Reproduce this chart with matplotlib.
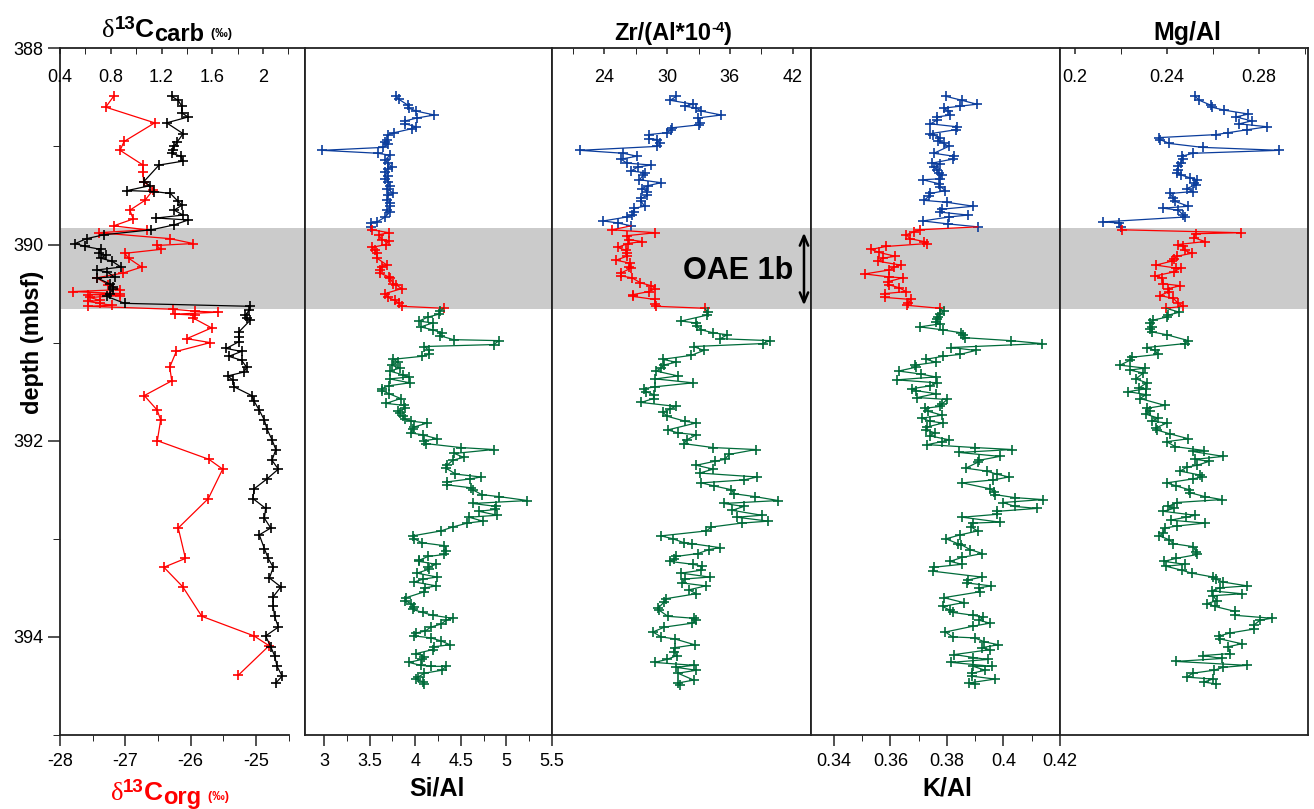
import numpy as np
import matplotlib
matplotlib.use("Agg")
import matplotlib.pyplot as plt
from matplotlib.transforms import IdentityTransform

plt.rcParams["font.family"] = ["Liberation Sans", "DejaVu Sans"]
plt.rcParams["axes.unicode_minus"] = False

# (depth mbsf, value) pairs
carb = [(388.49, 1.28), (388.53, 1.33), (388.59, 1.36), (388.66, 1.36), (388.70, 1.41), (388.76, 1.24),
        (388.87, 1.37), (388.96, 1.32), (389.00, 1.30), (389.04, 1.29), (389.07, 1.28), (389.10, 1.35),
        (389.15, 1.37), (389.19, 1.18), (389.36, 1.06), (389.40, 1.11), (389.45, 0.93), (389.46, 1.14),
        (389.48, 1.27), (389.56, 1.33), (389.60, 1.36), (389.65, 1.30), (389.70, 1.37), (389.73, 1.16),
        (389.75, 1.41), (389.80, 1.30), (389.85, 1.12), (389.90, 0.75), (389.94, 0.61), (389.99, 0.52),
        (390.02, 0.60), (390.05, 0.72), (390.09, 0.71), (390.11, 0.76), (390.14, 0.72), (390.17, 0.81),
        (390.23, 0.88), (390.26, 0.69), (390.28, 0.77), (390.33, 0.83), (390.34, 0.69), (390.40, 0.79),
        (390.43, 0.82), (390.45, 0.82), (390.50, 0.79), (390.53, 0.77), (390.60, 0.91), (390.63, 1.90),
        (390.67, 1.89), (390.72, 1.86), (390.75, 1.87), (390.77, 1.90), (390.89, 1.81), (390.94, 1.81),
        (390.99, 1.81), (391.06, 1.71), (391.09, 1.83), (391.14, 1.73), (391.18, 1.83), (391.25, 1.87),
        (391.30, 1.85), (391.34, 1.72), (391.38, 1.76), (391.45, 1.77), (391.54, 1.91), (391.60, 1.93),
        (391.69, 1.97), (391.79, 2.01), (391.88, 2.03), (391.99, 2.07), (392.09, 2.10), (392.20, 2.07),
        (392.29, 2.12), (392.39, 2.03), (392.49, 1.93), (392.59, 1.92), (392.69, 2.02), (392.79, 2.01),
        (392.89, 2.06), (392.96, 1.97), (393.10, 2.01), (393.20, 2.04), (393.29, 2.08), (393.40, 2.05),
        (393.49, 2.14), (393.59, 2.08), (393.69, 2.08), (393.79, 2.09), (393.90, 2.12), (393.99, 2.02),
        (394.10, 2.06), (394.19, 2.09), (394.30, 2.11), (394.40, 2.15), (394.47, 2.10)]

org = [(388.49, -27.18), (388.60, -27.30), (388.76, -26.55), (388.95, -27.02), (389.04, -27.08),
       (389.19, -26.73), (389.26, -26.73), (389.36, -26.72), (389.44, -26.57), (389.55, -26.70),
       (389.65, -26.93), (389.74, -26.88), (389.81, -27.18), (389.85, -26.67), (389.88, -27.41),
       (389.94, -26.32), (389.99, -25.96), (390.01, -26.52), (390.05, -26.46), (390.09, -27.01),
       (390.14, -26.95), (390.23, -26.75), (390.29, -27.03), (390.34, -27.44), (390.41, -27.26),
       (390.46, -27.08), (390.48, -27.80), (390.50, -27.08), (390.51, -27.57), (390.52, -27.08),
       (390.54, -27.54), (390.57, -27.39), (390.58, -27.57), (390.60, -27.39), (390.62, -27.21),
       (390.63, -27.57), (390.66, -26.27), (390.68, -25.93), (390.69, -25.58), (390.71, -26.24),
       (390.72, -25.93), (390.75, -25.96), (390.85, -25.68), (390.96, -26.06), (391.00, -25.70),
       (391.09, -26.22), (391.25, -26.32), (391.39, -26.29), (391.54, -26.71), (391.69, -26.51),
       (391.79, -26.46), (392.00, -26.51), (392.19, -25.72), (392.29, -25.51), (392.59, -25.73),
       (392.89, -26.19), (393.20, -26.08), (393.29, -26.41), (393.49, -26.12), (393.79, -25.83),
       (393.99, -25.03), (394.09, -24.80), (394.39, -25.27)]

si_al = [(388.49, 3.79), (388.52, 3.82), (388.58, 3.92), (388.61, 3.93), (388.64, 4.01), (388.68, 4.21),
         (388.71, 4.02), (388.74, 3.89), (388.77, 3.89), (388.80, 4.01), (388.82, 3.96), (388.86, 3.77),
         (388.88, 3.70), (388.93, 3.69), (388.96, 3.67), (388.98, 3.70), (389.01, 3.65), (389.04, 2.98),
         (389.07, 3.59), (389.09, 3.72), (389.14, 3.67), (389.17, 3.70), (389.21, 3.74), (389.23, 3.70),
         (389.26, 3.67), (389.30, 3.70), (389.33, 3.67), (389.36, 3.70), (389.40, 3.72), (389.43, 3.69),
         (389.48, 3.76), (389.50, 3.70), (389.55, 3.69), (389.58, 3.72), (389.61, 3.72), (389.65, 3.69),
         (389.67, 3.72), (389.72, 3.67), (389.77, 3.58), (389.78, 3.51), (389.82, 3.51),
         (389.85, 3.53), (389.88, 3.71), (389.90, 3.60), (389.95, 3.63), (389.96, 3.71), (390.00, 3.68),
         (390.03, 3.52), (390.06, 3.56), (390.09, 3.58), (390.14, 3.58), (390.21, 3.69), (390.23, 3.63),
         (390.26, 3.61), (390.29, 3.61), (390.33, 3.71), (390.34, 3.72), (390.40, 3.76), (390.41, 3.79),
         (390.45, 3.85), (390.50, 3.67), (390.54, 3.70), (390.57, 3.78), (390.60, 3.82), (390.63, 3.85),
         (390.65, 4.31),
         (390.68, 4.27), (390.71, 4.26), (390.74, 4.14), (390.78, 4.04), (390.80, 4.19), (390.84, 4.06),
         (390.87, 4.19), (390.90, 4.29), (390.93, 4.27), (390.97, 4.42), (390.98, 4.92), (391.02, 4.86),
         (391.04, 4.10), (391.08, 4.15), (391.12, 4.15), (391.14, 4.07), (391.17, 3.76), (391.20, 3.81),
         (391.23, 3.74), (391.26, 3.83), (391.29, 3.72), (391.33, 3.87), (391.35, 3.93), (391.37, 3.72),
         (391.41, 3.94), (391.44, 3.71), (391.47, 3.63), (391.49, 3.64), (391.52, 3.71), (391.57, 3.84),
         (391.62, 3.68), (391.64, 3.88), (391.67, 3.89), (391.70, 3.81), (391.72, 3.83), (391.75, 3.86),
         (391.78, 3.89), (391.80, 3.95), (391.82, 4.13), (391.86, 3.99), (391.88, 3.97), (391.92, 3.95),
         (391.94, 4.08), (391.98, 4.24), (392.00, 4.10), (392.03, 4.12), (392.07, 4.50), (392.09, 4.86),
         (392.13, 4.43), (392.17, 4.53), (392.20, 4.41), (392.25, 4.35), (392.28, 4.34), (392.34, 4.44),
         (392.37, 4.72), (392.39, 4.60), (392.42, 4.35), (392.45, 4.35), (392.48, 4.61), (392.50, 4.63),
         (392.55, 4.73), (392.57, 4.92), (392.61, 5.23), (392.64, 4.63), (392.67, 4.89), (392.70, 4.88),
         (392.72, 4.70), (392.76, 4.90), (392.78, 4.59), (392.82, 4.74), (392.84, 4.57), (392.88, 4.41),
         (392.92, 4.28), (392.97, 3.97), (393.00, 3.99), (393.04, 4.07), (393.07, 4.32), (393.12, 4.34),
         (393.16, 4.32), (393.18, 4.14), (393.22, 4.04), (393.23, 4.04), (393.26, 4.23), (393.29, 4.14),
         (393.31, 4.15), (393.35, 4.02), (393.39, 4.24), (393.41, 4.09), (393.44, 3.99), (393.48, 4.23),
         (393.50, 4.11), (393.54, 4.10), (393.60, 3.90), (393.63, 3.89), (393.66, 3.95), (393.70, 3.99),
         (393.72, 3.97), (393.75, 4.08), (393.78, 4.19), (393.81, 4.41), (393.83, 4.34), (393.87, 4.28),
         (393.90, 4.17), (393.94, 4.11), (393.96, 4.01), (393.99, 3.99), (394.01, 4.17), (394.04, 4.28),
         (394.08, 4.38), (394.10, 4.21), (394.13, 4.19), (394.17, 4.01), (394.20, 4.10), (394.23, 4.07),
         (394.26, 3.93), (394.29, 4.06), (394.30, 4.17), (394.30, 4.34), (394.34, 4.29), (394.37, 4.10),
         (394.41, 4.03), (394.43, 4.01), (394.46, 4.09), (394.48, 4.10)]

zr_al = [(388.49, 30.87), (388.53, 30.30), (388.57, 32.47), (388.59, 31.67), (388.61, 32.79), (388.64, 33.27),
         (388.68, 35.19), (388.71, 32.95), (388.76, 33.11), (388.78, 33.05), (388.81, 30.49), (388.83, 30.39),
         (388.86, 29.98), (388.88, 28.25), (388.92, 28.25), (388.93, 29.02), (388.97, 29.34), (389.00, 29.02),
         (389.04, 21.67), (389.07, 25.82), (389.10, 27.10), (389.13, 25.60), (389.17, 26.14), (389.19, 28.48),
         (389.21, 27.20), (389.25, 26.56), (389.27, 27.93), (389.29, 27.74), (389.34, 27.36), (389.37, 29.43),
         (389.40, 28.16), (389.43, 27.61), (389.46, 28.09), (389.50, 28.06), (389.53, 27.52), (389.56, 27.52),
         (389.61, 27.84), (389.63, 26.88), (389.67, 26.88), (389.70, 26.65), (389.72, 26.14), (389.76, 23.90),
         (389.78, 25.28), (389.81, 26.56),
         (389.85, 24.74), (389.88, 28.89), (389.91, 26.17), (389.95, 26.33), (389.97, 27.61), (389.99, 26.24),
         (390.03, 25.28), (390.06, 26.08), (390.09, 26.14), (390.12, 26.14), (390.16, 25.12), (390.19, 26.46),
         (390.23, 26.33), (390.24, 26.56), (390.29, 25.60), (390.32, 25.60), (390.34, 26.65), (390.39, 27.45),
         (390.42, 28.48), (390.45, 28.89), (390.48, 28.25), (390.51, 26.78), (390.53, 26.78), (390.56, 28.80),
         (390.61, 28.89), (390.63, 28.96), (390.65, 33.59),
         (390.69, 33.91), (390.72, 33.81), (390.78, 31.35), (390.80, 32.73), (390.83, 32.86), (390.87, 33.27),
         (390.90, 34.39), (390.92, 35.73), (390.96, 35.09), (390.98, 39.82), (391.01, 39.12), (391.04, 32.54),
         (391.08, 33.50), (391.13, 32.31), (391.17, 29.59), (391.20, 30.81), (391.23, 29.66), (391.26, 29.43),
         (391.29, 28.96), (391.34, 31.03), (391.37, 28.89), (391.41, 32.47), (391.45, 28.89), (391.47, 27.77),
         (391.50, 28.00), (391.53, 28.70), (391.57, 28.70), (391.61, 27.52), (391.65, 30.81), (391.68, 30.23),
         (391.71, 29.59), (391.75, 29.98), (391.80, 31.67), (391.82, 32.73), (391.89, 30.07), (391.92, 31.03),
         (391.94, 32.79), (391.99, 31.90), (392.03, 31.61), (392.07, 34.39), (392.09, 38.48), (392.14, 35.92),
         (392.19, 35.51), (392.21, 34.55), (392.25, 32.79), (392.29, 34.39), (392.33, 33.11), (392.37, 38.61),
         (392.40, 37.33), (392.43, 33.27), (392.46, 34.45), (392.50, 36.15), (392.54, 36.37), (392.57, 38.39),
         (392.61, 40.62), (392.64, 35.41), (392.67, 37.33), (392.71, 36.24), (392.76, 39.03), (392.78, 36.69),
         (392.82, 39.66), (392.84, 37.11), (392.88, 34.23), (392.92, 33.75), (392.97, 29.43), (393.00, 30.55),
         (393.04, 31.61), (393.05, 32.41), (393.09, 35.03), (393.11, 34.01), (393.15, 32.95), (393.18, 30.87),
         (393.21, 30.62), (393.23, 30.23), (393.26, 32.47), (393.28, 33.37), (393.32, 33.27), (393.35, 31.35),
         (393.39, 34.07), (393.41, 31.67), (393.45, 31.45), (393.48, 33.69), (393.52, 32.09), (393.56, 32.79),
         (393.61, 29.91), (393.64, 29.75), (393.71, 29.12), (393.73, 29.27), (393.79, 30.07), (393.81, 32.54),
         (393.83, 32.79), (393.86, 32.41), (393.90, 29.75), (393.95, 28.64), (394.00, 29.43), (394.02, 30.71),
         (394.08, 32.63), (394.11, 30.71), (394.15, 30.62), (394.19, 30.94), (394.23, 29.98), (394.26, 28.80),
         (394.29, 32.54), (394.31, 30.87), (394.34, 32.79), (394.37, 31.03), (394.44, 32.54), (394.47, 31.03),
         (394.49, 31.19)]

k_al = [(388.49, 0.3797), (388.53, 0.3853), (388.57, 0.3906), (388.59, 0.3847), (388.61, 0.3789),
        (388.64, 0.3804), (388.68, 0.3812), (388.70, 0.3766), (388.73, 0.3766), (388.77, 0.3742),
        (388.80, 0.3836), (388.83, 0.3832), (388.87, 0.3742), (388.88, 0.3750), (388.91, 0.3774),
        (388.94, 0.3769), (388.97, 0.3789), (389.00, 0.3806), (389.07, 0.3754), (389.10, 0.3824),
        (389.13, 0.3820), (389.17, 0.3748), (389.18, 0.3777), (389.21, 0.3754), (389.24, 0.3766),
        (389.27, 0.3771), (389.29, 0.3783), (389.33, 0.3774), (389.34, 0.3715), (389.38, 0.3771),
        (389.41, 0.3777), (389.45, 0.3795), (389.48, 0.3742), (389.51, 0.3736), (389.55, 0.3719),
        (389.57, 0.3801), (389.61, 0.3894), (389.64, 0.3783), (389.67, 0.3777), (389.70, 0.3874),
        (389.72, 0.3806), (389.76, 0.3715), (389.79, 0.3804), (389.82, 0.3909),
        (389.85, 0.3704), (389.87, 0.3684), (389.90, 0.3657), (389.94, 0.3669), (389.97, 0.3719),
        (389.99, 0.3731), (390.02, 0.3585), (390.05, 0.3532), (390.08, 0.3559), (390.12, 0.3617),
        (390.14, 0.3573), (390.17, 0.3555), (390.21, 0.3637), (390.23, 0.3614), (390.26, 0.3596),
        (390.30, 0.3509), (390.33, 0.3594), (390.34, 0.3643), (390.38, 0.3590), (390.41, 0.3594),
        (390.44, 0.3631), (390.48, 0.3655), (390.50, 0.3582), (390.54, 0.3582), (390.56, 0.3672),
        (390.60, 0.3664), (390.62, 0.3660), (390.65, 0.3774),
        (390.68, 0.3789), (390.71, 0.3777), (390.74, 0.3769), (390.76, 0.3766), (390.79, 0.3760),
        (390.81, 0.3774), (390.84, 0.3704), (390.87, 0.3785), (390.90, 0.3851), (390.92, 0.3856),
        (390.95, 0.3863), (390.98, 0.4026), (391.01, 0.4136), (391.05, 0.3816), (391.08, 0.3902),
        (391.12, 0.3847), (391.14, 0.3785), (391.17, 0.3727), (391.20, 0.3760), (391.23, 0.3687),
        (391.25, 0.3692), (391.29, 0.3629), (391.32, 0.3707), (391.35, 0.3760), (391.38, 0.3622),
        (391.41, 0.3766), (391.44, 0.3742), (391.47, 0.3676), (391.49, 0.3692), (391.52, 0.3760),
        (391.56, 0.3696), (391.58, 0.3801), (391.63, 0.3781), (391.65, 0.3777), (391.67, 0.3722),
        (391.70, 0.3734), (391.74, 0.3783), (391.77, 0.3711), (391.80, 0.3739), (391.82, 0.3785),
        (391.86, 0.3731), (391.89, 0.3727), (391.92, 0.3757), (391.95, 0.3739), (391.99, 0.3806),
        (392.01, 0.3781), (392.04, 0.3731), (392.07, 0.3900), (392.09, 0.4031), (392.12, 0.3844),
        (392.16, 0.3987), (392.20, 0.3914), (392.22, 0.3909), (392.28, 0.3867), (392.31, 0.3941),
        (392.34, 0.3976), (392.37, 0.4019), (392.40, 0.3964), (392.43, 0.3855), (392.49, 0.3952),
        (392.52, 0.3967), (392.55, 0.3972), (392.58, 0.4040), (392.60, 0.4139), (392.63, 0.3999),
        (392.67, 0.4040), (392.69, 0.4119), (392.72, 0.3979), (392.75, 0.3979), (392.78, 0.3855),
        (392.83, 0.3987), (392.84, 0.3891), (392.88, 0.3886), (392.92, 0.3909), (392.96, 0.3847),
        (393.00, 0.3797), (393.05, 0.3839), (393.06, 0.3851), (393.11, 0.3882), (393.15, 0.3926),
        (393.19, 0.3853), (393.23, 0.3812), (393.26, 0.3853), (393.29, 0.3754), (393.33, 0.3750),
        (393.39, 0.3923), (393.42, 0.3874), (393.45, 0.3871), (393.48, 0.3956), (393.50, 0.3914),
        (393.54, 0.3917), (393.60, 0.3789), (393.65, 0.3859), (393.69, 0.3785), (393.73, 0.3812),
        (393.75, 0.3820), (393.78, 0.3894), (393.80, 0.3929), (393.83, 0.3914), (393.86, 0.3952),
        (393.89, 0.3894), (393.95, 0.3795), (394.00, 0.3820), (394.01, 0.3898), (394.05, 0.3933),
        (394.08, 0.3982), (394.11, 0.3923), (394.13, 0.3952), (394.18, 0.3827), (394.21, 0.3894),
        (394.23, 0.3944), (394.26, 0.3816), (394.30, 0.3961), (394.30, 0.3894), (394.34, 0.3935),
        (394.37, 0.3890), (394.40, 0.3888), (394.43, 0.3970), (394.47, 0.3877), (394.48, 0.3900)]

mg_al = [(388.49, 0.2522), (388.53, 0.2541), (388.58, 0.2590), (388.60, 0.2594), (388.63, 0.2648),
         (388.67, 0.2754), (388.70, 0.2700), (388.74, 0.2768), (388.77, 0.2714), (388.80, 0.2836),
         (388.83, 0.2749), (388.86, 0.2667), (388.88, 0.2612), (388.91, 0.2367), (388.93, 0.2370),
         (388.97, 0.2410), (389.01, 0.2555), (389.04, 0.2888), (389.07, 0.2514), (389.10, 0.2464),
         (389.13, 0.2468), (389.17, 0.2459), (389.20, 0.2449), (389.24, 0.2449), (389.27, 0.2445),
         (389.29, 0.2459), (389.32, 0.2500), (389.34, 0.2532), (389.37, 0.2517), (389.39, 0.2526),
         (389.43, 0.2486), (389.46, 0.2514), (389.48, 0.2413), (389.53, 0.2428), (389.56, 0.2435),
         (389.61, 0.2493), (389.63, 0.2384), (389.65, 0.2449), (389.70, 0.2471), (389.72, 0.2478),
         (389.77, 0.2120), (389.78, 0.2193), (389.82, 0.2199),
         (389.85, 0.2203), (389.88, 0.2720), (389.89, 0.2525), (389.93, 0.2517), (389.97, 0.2565),
         (390.00, 0.2449), (390.02, 0.2471), (390.06, 0.2478), (390.09, 0.2507), (390.12, 0.2442),
         (390.15, 0.2430), (390.17, 0.2420), (390.21, 0.2352), (390.24, 0.2439), (390.24, 0.2459),
         (390.28, 0.2430), (390.32, 0.2348), (390.34, 0.2377), (390.40, 0.2384), (390.42, 0.2457),
         (390.45, 0.2406), (390.48, 0.2410), (390.52, 0.2370), (390.55, 0.2428), (390.60, 0.2449),
         (390.63, 0.2471), (390.65, 0.2396),
         (390.69, 0.2454), (390.72, 0.2406), (390.74, 0.2399), (390.77, 0.2341), (390.80, 0.2326),
         (390.84, 0.2333), (390.86, 0.2326), (390.89, 0.2333), (390.92, 0.2399), (390.98, 0.2493),
         (391.01, 0.2478), (391.05, 0.2312), (391.08, 0.2348), (391.12, 0.2362), (391.15, 0.2246),
         (391.18, 0.2239), (391.23, 0.2196), (391.26, 0.2304), (391.28, 0.2239), (391.31, 0.2297),
         (391.37, 0.2265), (391.41, 0.2312), (391.46, 0.2280), (391.47, 0.2309), (391.50, 0.2232),
         (391.53, 0.2309), (391.57, 0.2283), (391.64, 0.2391), (391.67, 0.2312), (391.70, 0.2326),
         (391.73, 0.2309), (391.77, 0.2362), (391.80, 0.2333), (391.82, 0.2399), (391.87, 0.2352),
         (391.89, 0.2355), (391.93, 0.2413), (391.98, 0.2493), (392.01, 0.2399), (392.06, 0.2435),
         (392.10, 0.2561), (392.11, 0.2512), (392.16, 0.2645), (392.19, 0.2522), (392.21, 0.2584),
         (392.25, 0.2532), (392.27, 0.2486), (392.31, 0.2457), (392.35, 0.2543), (392.37, 0.2551),
         (392.39, 0.2512), (392.43, 0.2399), (392.46, 0.2439), (392.50, 0.2497), (392.53, 0.2500),
         (392.57, 0.2565), (392.60, 0.2638), (392.63, 0.2442), (392.67, 0.2406), (392.69, 0.2430),
         (392.72, 0.2384), (392.76, 0.2522), (392.78, 0.2483), (392.81, 0.2416), (392.84, 0.2565),
         (392.87, 0.2442), (392.89, 0.2391), (392.94, 0.2384), (392.97, 0.2367), (393.01, 0.2410),
         (393.05, 0.2428), (393.08, 0.2514), (393.13, 0.2526), (393.16, 0.2532), (393.20, 0.2439),
         (393.23, 0.2387), (393.26, 0.2478), (393.28, 0.2396), (393.32, 0.2464), (393.35, 0.2507),
         (393.39, 0.2601), (393.41, 0.2613), (393.44, 0.2642), (393.48, 0.2749), (393.50, 0.2630),
         (393.53, 0.2594), (393.56, 0.2725), (393.58, 0.2601), (393.63, 0.2616), (393.66, 0.2575),
         (393.69, 0.2609), (393.74, 0.2696), (393.78, 0.2696), (393.81, 0.2855), (393.83, 0.2804),
         (393.88, 0.2778), (393.92, 0.2778), (393.96, 0.2674), (393.99, 0.2628), (394.02, 0.2630),
         (394.07, 0.2725), (394.10, 0.2667), (394.17, 0.2674), (394.19, 0.2558), (394.22, 0.2638),
         (394.25, 0.2439), (394.29, 0.2746), (394.31, 0.2645), (394.34, 0.2604), (394.37, 0.2512),
         (394.41, 0.2486), (394.43, 0.2599), (394.46, 0.2561), (394.48, 0.2613)]

OAE_TOP, OAE_BASE = 389.835, 390.655

BLUE, RED, GREEN = "#0b3d9c", "#ff0000", "#006b3a"
BAND = "#cbcbcb"
INK = "#222222"

W, H = 1314, 809
TOP, BOTTOM = 48.3, 735.0
EDGES = [60, 305, 552, 811, 1060, 1308]

fig = plt.figure(figsize=(W / 100, H / 100), dpi=100)


def panel(i):
    x0, x1 = EDGES[i], EDGES[i + 1]
    ax = fig.add_axes([x0 / W, 1 - BOTTOM / H, (x1 - x0) / W, (BOTTOM - TOP) / H])
    ax.axhspan(OAE_TOP, OAE_BASE, color=BAND, lw=0, zorder=0)
    for s in ax.spines.values():
        s.set_linewidth(1.3)
        s.set_color(INK)
    ax.tick_params(left=False, labelleft=False, bottom=False, labelbottom=False,
                   labelsize=13, width=1.1, color=INK)
    return ax


def bottom_ticks(ax, major, labels, minor):
    ax.set_xticks(major)
    ax.set_xticklabels(labels)
    ax.set_xticks(minor, minor=True)
    ax.tick_params(axis="x", which="both", bottom=True, labelbottom=True,
                   direction="out", pad=5)
    ax.tick_params(axis="x", which="major", length=8)
    ax.tick_params(axis="x", which="minor", length=4)


def top_ticks(ax, major, labels, minor):
    ax.set_xticks(major)
    ax.set_xticklabels(labels)
    ax.set_xticks(minor, minor=True)
    ax.tick_params(axis="x", which="both", top=True, labeltop=True, bottom=False,
                   labelbottom=False, direction="in", length=4, pad=-27)


def profile(ax, data):
    # blue above the OAE interval, red inside it, green below
    d, v = np.array(data).T
    zones = [(d < OAE_TOP, BLUE),
             ((d >= OAE_TOP) & (d <= OAE_BASE), RED),
             (d > OAE_BASE, GREEN)]
    for mask, colour in zones:
        idx = np.flatnonzero(mask)
        lo = max(idx[0] - 1, 0)
        ax.plot(v[lo:idx[-1] + 1], d[lo:idx[-1] + 1], color=colour, lw=0.9)
        ax.plot(v[idx], d[idx], "+", color=colour, ms=7, mew=1.2)


def rich_label(cx, base, runs, color="black"):
    # runs of (text, size, rise px, family, weight) laid out along one baseline
    r = fig.canvas.get_renderer()
    items = []
    for s, size, rise, fam, weight in runs:
        t = fig.text(0, 0, s, fontsize=size, family=fam, weight=weight, color=color,
                     transform=IdentityTransform(), ha="left", va="baseline")
        items.append((t, t.get_window_extent(r).width, rise))
    x = cx - sum(w for _, w, _ in items) / 2
    for t, w, rise in items:
        t.set_position((x, H - base + rise))
        x += w


# panel 1: carbon isotopes
ax1 = panel(0)
bottom_ticks(ax1, [-28, -27, -26, -25], ["-28", "-27", "-26", "-25"],
             [-27.5, -26.5, -25.5, -24.5])
ax1.set_xlim(-28, -24.25)
ax1.spines["bottom"].set_bounds(-28, -24.5)
ax1.set_yticks([388, 390, 392, 394])
ax1.set_yticks([389, 391, 393, 395], minor=True)
ax1.tick_params(axis="y", which="both", left=True, labelleft=True, direction="out")
ax1.tick_params(axis="y", which="major", length=8.6)
ax1.tick_params(axis="y", which="minor", length=5)
ax1.set_ylim(395, 388)
d, v = np.array(org).T
ax1.plot(v, d, color=RED, lw=0.9, marker="+", ms=7, mew=1.2)

ax1t = ax1.twiny()
for s in ax1t.spines.values():
    s.set_visible(False)
ax1t.tick_params(labelsize=13, width=1.1, color=INK)
top_ticks(ax1t, [0.4, 0.8, 1.2, 1.6, 2.0], ["0.4", "0.8", "1.2", "1.6", "2"],
          [0.6, 1.0, 1.4, 1.8, 2.2])
ax1t.set_xlim(0.4, 2.33)
d, v = np.array(carb).T
ax1t.plot(v, d, color="black", lw=0.9, marker="+", ms=7, mew=1.2)
ax1t.set_ylim(395, 388)

# panel 2: Si/Al
ax2 = panel(1)
bottom_ticks(ax2, [3, 3.5, 4, 4.5, 5, 5.5], ["3", "3.5", "4", "4.5", "5", "5.5"],
             [3.25, 3.75, 4.25, 4.75, 5.25])
ax2.set_xlim(2.79, 5.5)
ax2.set_ylim(395, 388)
profile(ax2, si_al)

# panel 3: Zr/Al
ax3 = panel(2)
top_ticks(ax3, [24, 30, 36, 42], ["24", "30", "36", "42"], [21, 27, 33, 39])
ax3.set_xlim(19, 43.75)
ax3.set_ylim(395, 388)
profile(ax3, zr_al)
ax3.text(36.75, 390.275, "OAE 1b", fontsize=22, weight="bold", ha="center", va="center")
ax3.annotate("", xy=(43.08, 389.88), xytext=(43.08, 390.62),
             arrowprops=dict(arrowstyle="<->,head_length=0.7,head_width=0.3",
                             lw=1.8, color="black", shrinkA=0, shrinkB=0))

# panel 4: K/Al
ax4 = panel(3)
bottom_ticks(ax4, [0.34, 0.36, 0.38, 0.40, 0.42], ["0.34", "0.36", "0.38", "0.4", "0.42"],
             [0.35, 0.37, 0.39, 0.41])
ax4.set_xlim(0.3319, 0.42005)
ax4.set_ylim(395, 388)
profile(ax4, k_al)

# panel 5: Mg/Al
ax5 = panel(4)
top_ticks(ax5, [0.20, 0.24, 0.28], ["0.2", "0.24", "0.28"], [0.22, 0.26, 0.30])
ax5.set_xlim(0.1935, 0.3013)
ax5.set_ylim(395, 388)
profile(ax5, mg_al)

# axis titles
SANS = "Liberation Sans"
SERIF = "Liberation Serif"
rich_label(167, 37, [("δ", 19, 0, SERIF, "normal"), ("13", 13.5, 8, SANS, "bold"),
                     ("C", 19, 0, SANS, "bold"), ("carb", 17, -4, SANS, "bold"),
                     ("  (‰)", 9, 0, SANS, "bold")])
rich_label(170, 800, [("δ", 19, 0, SERIF, "normal"), ("13", 13.5, 8, SANS, "bold"),
                      ("C", 19, 0, SANS, "bold"), ("org", 17, -4, SANS, "bold"),
                      ("  (‰)", 9, 0, SANS, "bold")], color=RED)
rich_label(673, 40, [("Zr/(Al*10", 17, 0, SANS, "bold"), ("-4", 10.5, 8, SANS, "bold"),
                     (")", 17, 0, SANS, "bold")])
rich_label(1187, 40, [("Mg/Al", 18, 0, SANS, "bold")])
rich_label(437, 796, [("Si/Al", 18, 0, SANS, "bold")])
rich_label(947, 796, [("K/Al", 18, 0, SANS, "bold")])
fig.text(33 / W, 1 - 342 / H, "depth (mbsf)", rotation=90, fontsize=17, weight="bold",
         ha="center", va="center")

fig.savefig("out.png", dpi=100)
